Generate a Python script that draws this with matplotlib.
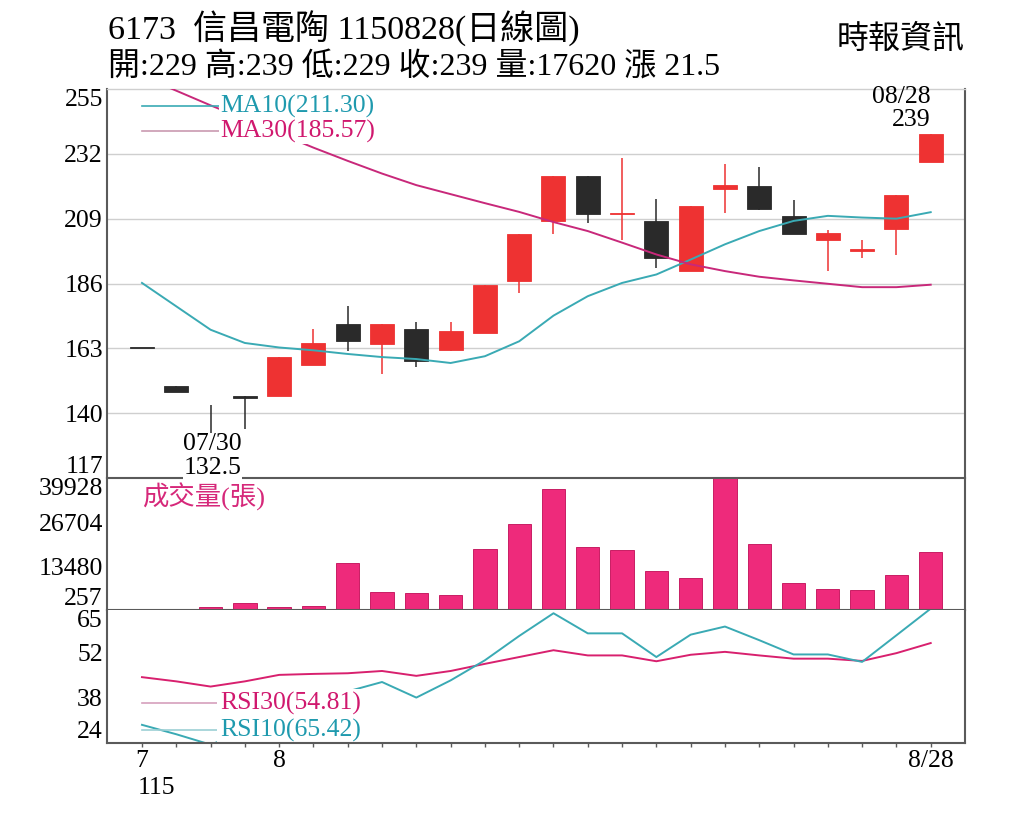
import matplotlib
matplotlib.use("Agg")
import matplotlib.pyplot as plt
import numpy as np

plt.rcParams['font.family'] = ['Liberation Serif', 'Noto Sans CJK TC', 'DejaVu Sans']

# ---------------- data ----------------
opens  = [163, 149.5, 133, 146, 146, 157, 171.5, 164.5, 170, 162.5, 168.5, 187, 208, 224,
          210.5, 208, 190.5, 219.5, 220.5, 210, 201.5, 197.5, 205.5, 229]
highs  = [163, 149.5, 143, 146, 160, 170, 178, 171.5, 172.5, 172.5, 185.5, 203.5, 224, 224,
          230.5, 216, 213.5, 228.5, 227.5, 215.5, 205, 201.5, 217.5, 239]
lows   = [163, 147.5, 132.5, 134.5, 146, 157, 162, 154, 156.5, 162, 168.5, 182.5, 203.5, 207.5,
          201.5, 191.5, 190.5, 211, 212, 203.5, 190.5, 195, 196, 229]
closes = [163, 147.5, 132.5, 145.5, 160, 165, 165.5, 171.5, 158.5, 169, 185.5, 203.5, 224, 210.5,
          211, 195, 213.5, 221, 212.5, 203.5, 204, 198, 217.5, 239]
ma10 = [186.2, 177.9, 169.6, 164.9, 163.3, 162.3, 161.0, 159.9, 159.2, 157.8, 160.2, 165.5,
        174.6, 181.5, 186.2, 189.2, 194.5, 199.9, 204.6, 208.2, 210.0, 209.4, 209.0, 211.3]
ma30 = [259.5, 254.4, 249.2, 244.3, 239.2, 234.2, 229.5, 225.0, 220.9, 217.7, 214.5, 211.4,
        207.8, 204.6, 200.5, 196.3, 192.8, 190.4, 188.4, 187.1, 185.9, 184.7, 184.7, 185.57]
volume = [257, 560, 1070, 2270, 1070, 1550, 14290, 5600, 5260, 4660, 18590, 26190, 36710, 19070,
          18370, 11980, 9750, 39928, 20180, 8370, 6450, 6150, 10860, 17620]
rsi30 = [44.3, 43.0, 41.4, 43.0, 45.0, 45.3, 45.5, 46.2, 44.7, 46.2, 48.4, 50.5, 52.6, 51.0,
         51.0, 49.2, 51.2, 52.1, 51.0, 50.0, 50.0, 49.3, 51.7, 54.81]
rsi10 = [29.6, 26.7, 23.5, 27.5, 31.0, 34.5, 39.9, 42.8, 38.0, 43.3, 49.5, 57.0, 64.0, 57.8,
         57.8, 50.5, 57.4, 59.9, 55.7, 51.3, 51.3, 49.0, 57.2, 65.42]
price_ticks = [117, 140, 163, 186, 209, 232, 255]
vol_ticks = [257, 13480, 26704, 39928]
rsi_ticks = [24, 38, 52, 65]
xtick_labels = {0: '7', 4: '8', 23: '8/28'}

title1 = '6173  信昌電陶 1150828(日線圖)'
title2 = '開:229 高:239 低:229 收:239 量:17620 漲 21.5'
source = '時報資訊'

# ---------------- style ----------------
RED = '#EE3232'
BLK = '#2A2A2A'
VOLC = '#EE2A7B'
TEAL = '#3AAAB4'
MAG = '#C8287A'
RMAG = '#D8206E'
FRAME = '#5a5a5a'
GRID = '#cfcfcf'
FS = 18.5

W, H = 1024, 826
fig = plt.figure(figsize=(W / 100, H / 100), dpi=100)

def rect(top, bottom, left=107, right=965):
    return [left / W, 1 - bottom / H, (right - left) / W, (bottom - top) / H]

ax_p = fig.add_axes(rect(89, 478))
ax_v = fig.add_axes(rect(478, 610))
ax_r = fig.add_axes(rect(610, 743))
ax_p.set_zorder(3)
ax_p.patch.set_alpha(0)

x = np.arange(len(opens))
xlim = (-1.02, 24.0)
for a in (ax_p, ax_v, ax_r):
    a.set_xlim(*xlim)
    for s in ('left', 'right', 'bottom', 'top'):
        a.spines[s].set_color(FRAME)
        a.spines[s].set_linewidth(1.5)
    a.tick_params(axis='y', length=0, pad=3, labelsize=FS)
ax_v.spines['top'].set_visible(False)
ax_r.spines['top'].set_visible(False)
ax_p.spines['top'].set_color(GRID)
ax_p.spines['top'].set_linewidth(1)
for s in ('left', 'right', 'bottom'):
    ax_r.spines[s].set_zorder(10)

# ---------------- price panel ----------------
ax_p.set_ylim(117, 255)
ax_p.set_yticks(price_ticks)
ax_p.set_yticklabels([str(t) for t in price_ticks])
for g in price_ticks[1:-1]:
    ax_p.axhline(g, color=GRID, lw=1, zorder=0)
ax_p.set_xticks([])

o = np.array(opens); c = np.array(closes); h = np.array(highs); l = np.array(lows)
up = c > o
cols = np.where(up, RED, BLK)
ax_p.vlines(x, l, h, colors=cols, lw=1.1, zorder=2)
body_bottom = np.minimum(o, c)
body_h = np.maximum(np.abs(c - o), 0.6)
ax_p.bar(x, body_h, bottom=body_bottom, width=0.7, color=cols, edgecolor=cols, lw=0.6, zorder=3)

ax_p.plot(x, ma10, color=TEAL, lw=1.4, zorder=4)
ax_p.plot(x, ma30, color=MAG, lw=1.4, zorder=4)

# legend
for yf, col, lcol, txt in [(0.956, '#1F9AAE', TEAL, 'MA10(211.30)'),
                           (0.892, '#D0186E', '#c99ab0', 'MA30(185.57)')]:
    ax_p.plot([0.0408, 0.1317], [yf, yf], transform=ax_p.transAxes, color=lcol, lw=1.2, zorder=5)
    ax_p.text(0.1317, yf, txt, transform=ax_p.transAxes, color=col, fontsize=FS,
              ha='left', va='center', zorder=6,
              bbox=dict(facecolor='white', edgecolor='none', pad=1.0))

# annotations for low and last
imin = int(np.argmin(l))
ax_p.annotate('07/30', xy=(imin, l[imin]), xytext=(2, -10), textcoords='offset pixels',
              ha='center', va='center', fontsize=FS, zorder=7,
              bbox=dict(facecolor='white', edgecolor='none', pad=0.3))
ax_p.annotate(f'{l[imin]:.1f}', xy=(imin, l[imin]), xytext=(2, -34), textcoords='offset pixels',
              ha='center', va='center', fontsize=FS, zorder=7, annotation_clip=False,
              bbox=dict(facecolor='white', edgecolor='none', pad=0.3))
ilast = len(c) - 1
ax_p.annotate('08/28', xy=(ilast, h[ilast]), xytext=(0, 37), textcoords='offset pixels',
              ha='right', va='center', fontsize=FS, zorder=7, annotation_clip=False)
ax_p.annotate(f'{h[ilast]:g}', xy=(ilast, h[ilast]), xytext=(0, 14), textcoords='offset pixels',
              ha='right', va='center', fontsize=FS, zorder=7, annotation_clip=False)

# ---------------- volume panel ----------------
ax_v.set_ylim(vol_ticks[0], vol_ticks[-1])
ax_v.bar(x, volume, width=0.68, color=VOLC, edgecolor='#C81E64', lw=0.7, zorder=2)
ax_v.set_yticks(vol_ticks)
ax_v.set_yticklabels([str(t) for t in vol_ticks])
ax_v.set_xticks([])
ax_v.text(0.0408, 0.856, '成交量(張)', transform=ax_v.transAxes, color='#D6287A',
          fontsize=19, ha='left', va='center', zorder=6)

# ---------------- RSI panel ----------------
ax_r.set_ylim(rsi_ticks[0], rsi_ticks[-1])
ax_r.plot(x, rsi30, color=RMAG, lw=1.4, zorder=3)
ax_r.plot(x, rsi10, color=TEAL, lw=1.4, zorder=3)
ax_r.set_yticks(rsi_ticks)
ax_r.set_yticklabels([str(t) for t in rsi_ticks])
for yf, col, lcol, txt in [(0.30, '#D0186E', '#d6a0bc', 'RSI30(54.81)'),
                           (0.098, '#1F9AAE', '#9ccfd4', 'RSI10(65.42)')]:
    ax_r.plot([0.0408, 0.1317], [yf, yf], transform=ax_r.transAxes, color=lcol, lw=1.2, zorder=5)
    ax_r.text(0.1317, yf, txt, transform=ax_r.transAxes, color=col, fontsize=FS,
              ha='left', va='center', zorder=6,
              bbox=dict(facecolor='white', edgecolor='none', pad=2.0))

ax_r.set_xticks(x)
ax_r.set_xticklabels([xtick_labels.get(i, '') for i in x])
ax_r.tick_params(axis='x', direction='out', length=3, width=1, color=FRAME, labelsize=FS, pad=2)
ax_r.text(-0.13, -0.34, '115', transform=ax_r.get_xaxis_transform(), fontsize=FS,
          ha='left', va='center')

# end-label alignment (top label below the top, bottom label above the bottom)
for a in (ax_p, ax_v, ax_r):
    labs = a.get_yticklabels()
    labs[0].set_va('bottom')
    labs[-1].set_va('top')

# ---------------- titles ----------------
fig.text(108 / W, 1 - 40 / H, title1, fontsize=24.5, ha='left', va='baseline')
fig.text(108 / W, 1 - 76 / H, title2, fontsize=23, ha='left', va='baseline')
fig.text(965 / W, 1 - 48 / H, source, fontsize=23, ha='right', va='baseline')

fig.savefig('out.png', dpi=100)
